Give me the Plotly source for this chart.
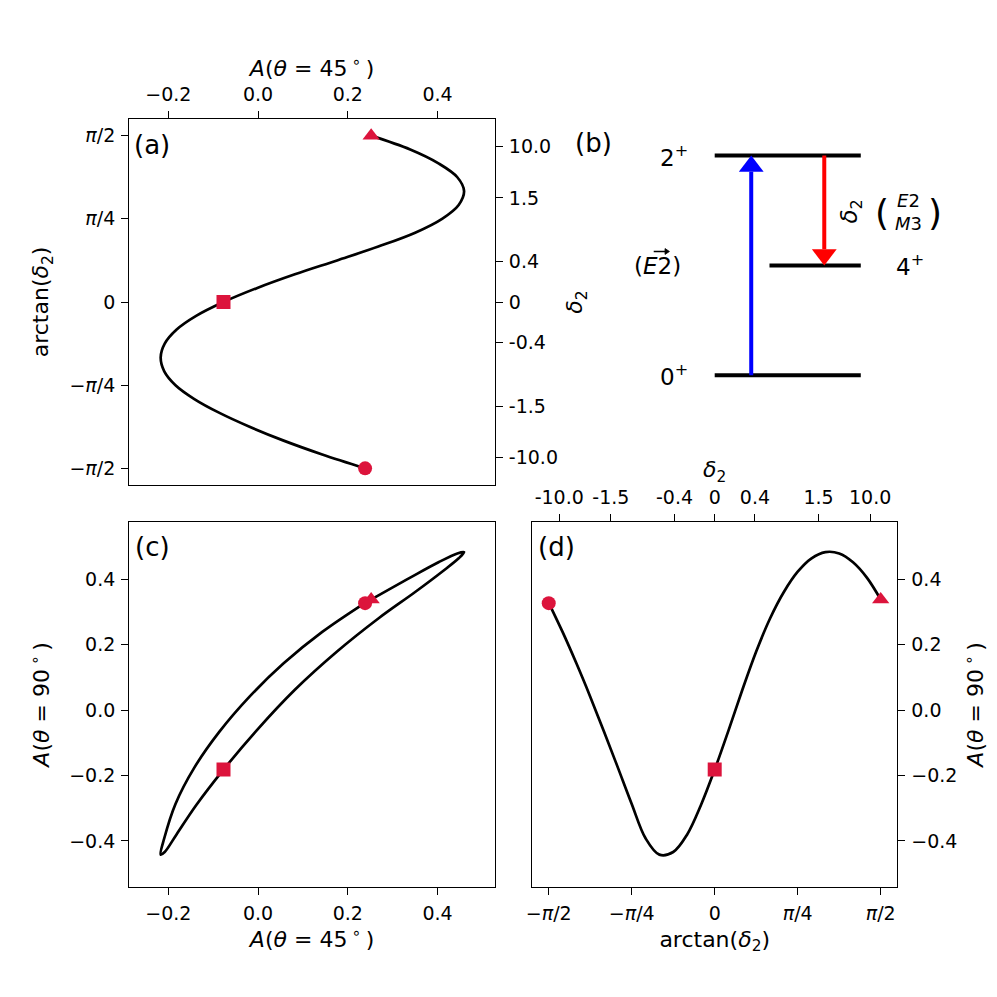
import numpy as np
import plotly.graph_objects as go

# ---------------- data ----------------
arctan_delta2 = [-1.5708, -1.4399, -1.3090, -1.1781, -1.0472, -0.9163, -0.7854, -0.6545,
                 -0.5236, -0.3927, -0.2618, -0.1309, 0.0, 0.1309, 0.2618, 0.3927,
                 0.5236, 0.6545, 0.7854, 0.9163, 1.0472, 1.1781, 1.3090, 1.4399, 1.5708]
A45 = [0.2385, 0.143, 0.057, -0.019, -0.086, -0.142, -0.184, -0.209,
       -0.217, -0.208, -0.182, -0.138, -0.077, -0.003, 0.082, 0.176,
       0.268, 0.350, 0.410, 0.447, 0.459, 0.444, 0.402, 0.339, 0.252]
A90 = [0.328, 0.239, 0.143, 0.041, -0.066, -0.176, -0.287, -0.392,
       -0.442, -0.434, -0.381, -0.291, -0.182, -0.062, 0.062, 0.179,
       0.280, 0.361, 0.423, 0.464, 0.483, 0.479, 0.452, 0.405, 0.338]

# highlighted points (delta2 -> -inf, 0, +inf)
mark_t = [-1.5708, 0.0, 1.5708]
mark_A45 = [0.2385, -0.077, 0.252]
mark_A90 = [0.327, -0.182, 0.338]
mark_symbols = ["circle", "square", "triangle-up"]

# tick labels
pi_tick_vals = [-np.pi / 2, -np.pi / 4, 0.0, np.pi / 4, np.pi / 2]
pi_tick_text = ["−<i>π</i>/2", "−<i>π</i>/4", "0", "<i>π</i>/4", "<i>π</i>/2"]
delta_tick_vals = [-10.0, -1.5, -0.4, 0.0, 0.4, 1.5, 10.0]
delta_tick_text = ["-10.0", "-1.5", "-0.4", "0", "0.4", "1.5", "10.0"]
A45_tick_vals = [-0.2, 0.0, 0.2, 0.4]
A45_tick_text = ["−0.2", "0.0", "0.2", "0.4"]
A90_tick_vals = [-0.4, -0.2, 0.0, 0.2, 0.4]
A90_tick_text = ["−0.4", "−0.2", "0.0", "0.2", "0.4"]

# level scheme (panel b)
level_names = ["0<sup>+</sup>", "2<sup>+</sup>", "4<sup>+</sup>"]
level_y = [0.3, 0.9, 0.6]
level_x0 = [0.5, 0.5, 0.65]
level_x1 = [0.9, 0.9, 0.9]
level_label_x = [0.388, 0.388, 1.036]
trans_from = [0, 1]   # index into levels
trans_to = [1, 2]
trans_x = [0.6, 0.8]
trans_color = ["#0000ff", "#ff0000"]

# ---------------- styling ----------------
FONT = "DejaVu Sans"
TICK = dict(family=FONT, size=19, color="black")
TITLE = dict(family=FONT, size=22, color="black")
CRIMSON = "#DC143C"
W, H = 997, 997


def px_x(p):
    return p / W


def px_y(p):
    return 1 - p / H


XL = [px_x(124), px_x(492)]
XR = [px_x(529.3), px_x(896.7)]
XB = [px_x(529.3), px_x(529.3 + 1.2 * 367.4)]
YT = [px_y(485), px_y(119)]
YB = [px_y(887), px_y(521.7)]

R_A45 = [-0.287, 0.528]
R_T = [-1.728, 1.728]
R_A90 = [-0.541, 0.576]

common = dict(showgrid=False, zeroline=False, ticks="outside", ticklen=7, tickwidth=1.3,
              tickcolor="black", linecolor="black", linewidth=1.3, tickfont=TICK,
              ticklabelstandoff=2)

fig = go.Figure()
line_style = dict(color="black", width=2.7, shape="spline", smoothing=1.0)

# panel (a)
fig.add_trace(go.Scatter(x=A45, y=arctan_delta2, mode="lines", line=line_style,
                         xaxis="x", yaxis="y", hoverinfo="skip", showlegend=False))
fig.add_trace(go.Scatter(x=[None], y=[None], xaxis="x", yaxis="y2", showlegend=False))
# panel (c)
fig.add_trace(go.Scatter(x=A45, y=A90, mode="lines", line=line_style,
                         xaxis="x3", yaxis="y3", hoverinfo="skip", showlegend=False))
# panel (d)
fig.add_trace(go.Scatter(x=arctan_delta2, y=A90, mode="lines", line=line_style,
                         xaxis="x4", yaxis="y4", hoverinfo="skip", showlegend=False))
fig.add_trace(go.Scatter(x=[None], y=[None], xaxis="x5", yaxis="y4", showlegend=False))

# markers
msize = {"circle": 14, "square": 14, "triangle-up": 15}
for i, sym in enumerate(mark_symbols):
    mk = dict(symbol=sym, size=msize[sym], color=CRIMSON, line=dict(width=0))
    fig.add_trace(go.Scatter(x=[mark_A45[i]], y=[mark_t[i]], mode="markers", marker=mk,
                             xaxis="x", yaxis="y", showlegend=False))
    fig.add_trace(go.Scatter(x=[mark_A45[i]], y=[mark_A90[i]], mode="markers", marker=mk,
                             xaxis="x3", yaxis="y3", showlegend=False))
    fig.add_trace(go.Scatter(x=[mark_t[i]], y=[mark_A90[i]], mode="markers", marker=mk,
                             xaxis="x4", yaxis="y4", showlegend=False))

# panel (b) invisible axes
fig.add_trace(go.Scatter(x=[None], y=[None], xaxis="x6", yaxis="y6", showlegend=False))

title_a45 = "<i>A</i>(<i>θ</i> = 45\u2009<sup>∘</sup>\u2009)"
title_a90 = "<i>A</i>(<i>θ</i> = 90\u2009<sup>∘</sup>\u2009)"
title_arct = "arctan(<i>δ</i><sub>2</sub>)"
title_d2 = "<i>δ</i><sub>2</sub>"

fig.update_layout(
    width=W, height=H, margin=dict(l=0, r=0, t=0, b=0),
    paper_bgcolor="white", plot_bgcolor="white", showlegend=False,
    font=dict(family=FONT, color="black"),
    xaxis=dict(domain=XL, anchor="y", side="top", range=R_A45, mirror=True, showline=True,
               tickvals=A45_tick_vals, ticktext=A45_tick_text,
               title=dict(text=title_a45, font=TITLE, standoff=0), **common),
    yaxis=dict(domain=YT, anchor="x", range=R_T, mirror=True, showline=True,
               tickvals=pi_tick_vals, ticktext=pi_tick_text,
               title=dict(text=title_arct, font=TITLE, standoff=14), **common),
    yaxis2=dict(overlaying="y", anchor="x", side="right", range=R_T, showline=False,
                tickvals=list(np.arctan(delta_tick_vals)), ticktext=delta_tick_text,
                title=dict(text=title_d2, font=TITLE, standoff=9), **common),
    xaxis3=dict(domain=XL, anchor="y3", range=R_A45, mirror=True, showline=True,
                tickvals=A45_tick_vals, ticktext=A45_tick_text,
                title=dict(text=title_a45, font=TITLE, standoff=8), **common),
    yaxis3=dict(domain=YB, anchor="x3", range=R_A90, mirror=True, showline=True,
                tickvals=A90_tick_vals, ticktext=A90_tick_text,
                title=dict(text=title_a90, font=TITLE, standoff=13), **common),
    xaxis4=dict(domain=XR, anchor="y4", range=R_T, mirror=True, showline=True,
                tickvals=pi_tick_vals, ticktext=pi_tick_text,
                title=dict(text=title_arct, font=TITLE, standoff=8), **common),
    xaxis5=dict(overlaying="x4", anchor="y4", side="top", range=R_T, showline=False,
                tickvals=list(np.arctan(delta_tick_vals)), ticktext=delta_tick_text,
                title=dict(text=title_d2, font=TITLE, standoff=0), **common),
    yaxis4=dict(domain=YB, anchor="x4", side="right", range=R_A90, mirror=True, showline=True,
                tickvals=A90_tick_vals, ticktext=A90_tick_text,
                title=dict(text=title_a90, font=TITLE, standoff=11), **common),
    xaxis6=dict(domain=XB, anchor="y6", range=[0, 1.2], visible=False),
    yaxis6=dict(domain=YT, anchor="x6", range=[0, 1], visible=False),
)

# panel labels
for lab, xr, yr, px, py in [("(a)", "x", "y", 0.062, 0.929), ("(b)", "x6", "y6", 0.14, 0.934),
                            ("(c)", "x3", "y3", 0.064, 0.930), ("(d)", "x4", "y4", 0.066, 0.931)]:
    fig.add_annotation(text=lab, x=px, y=py, xref=f"{xr} domain", yref=f"{yr} domain",
                       showarrow=False, font=dict(family=FONT, size=26, color="black"),
                       xanchor="center", yanchor="middle")

# level scheme
for i in range(len(level_names)):
    fig.add_shape(type="line", xref="x6", yref="y6", x0=level_x0[i], x1=level_x1[i],
                  y0=level_y[i], y1=level_y[i], line=dict(color="black", width=4))
    fig.add_annotation(text=level_names[i], x=level_label_x[i], y=level_y[i], xref="x6", yref="y6",
                       showarrow=False, font=dict(family=FONT, size=23, color="black"),
                       xanchor="center", yanchor="middle")

head_w, head_l = 0.034, 0.044
for k in range(len(trans_x)):
    y0 = level_y[trans_from[k]]
    y1 = level_y[trans_to[k]]
    xk = trans_x[k]
    sgn = 1 if y1 > y0 else -1
    base = y1 - sgn * head_l
    fig.add_shape(type="line", xref="x6", yref="y6", x0=xk, x1=xk, y0=y0, y1=base,
                  line=dict(color=trans_color[k], width=4))
    fig.add_shape(type="path", xref="x6", yref="y6",
                  path=f"M {xk - head_w},{base} L {xk + head_w},{base} L {xk},{y1} Z",
                  fillcolor=trans_color[k], line=dict(color=trans_color[k], width=0))

# (E2 with vector arrow)
fig.add_annotation(text="(<i>E</i>2)", x=0.343, y=0.598, xref="x6", yref="y6", showarrow=False,
                   font=dict(family=FONT, size=23, color="black"))
vec_x0, vec_x1, vec_y = 0.333, 0.376, 0.638
fig.add_shape(type="line", xref="x6", yref="y6", x0=vec_x0, x1=vec_x1 - 0.008, y0=vec_y, y1=vec_y,
              line=dict(color="black", width=1.3))
fig.add_shape(type="path", xref="x6", yref="y6",
              path=f"M {vec_x1 - 0.012},{vec_y - 0.008} L {vec_x1},{vec_y} L {vec_x1 - 0.012},{vec_y + 0.008} Z",
              fillcolor="black", line=dict(color="black", width=0.8))

fig.add_annotation(text="<i>δ</i><sub>2</sub>", x=0.873, y=0.747, xref="x6", yref="y6",
                   showarrow=False, textangle=-90, font=dict(family=FONT, size=23, color="black"))
fig.add_annotation(text="(", x=0.957, y=0.745, xref="x6", yref="y6", showarrow=False,
                   font=dict(family=FONT, size=36, color="black"))
fig.add_annotation(text=")", x=1.103, y=0.745, xref="x6", yref="y6", showarrow=False,
                   font=dict(family=FONT, size=36, color="black"))
fig.add_annotation(text="<i>E</i>2<br><i>M</i>3", x=1.03, y=0.745, xref="x6", yref="y6",
                   showarrow=False, font=dict(family=FONT, size=18, color="black"))

fig.write_html("out.html", post_script="document.body.style.margin='0px';",
               config={"displayModeBar": False})
